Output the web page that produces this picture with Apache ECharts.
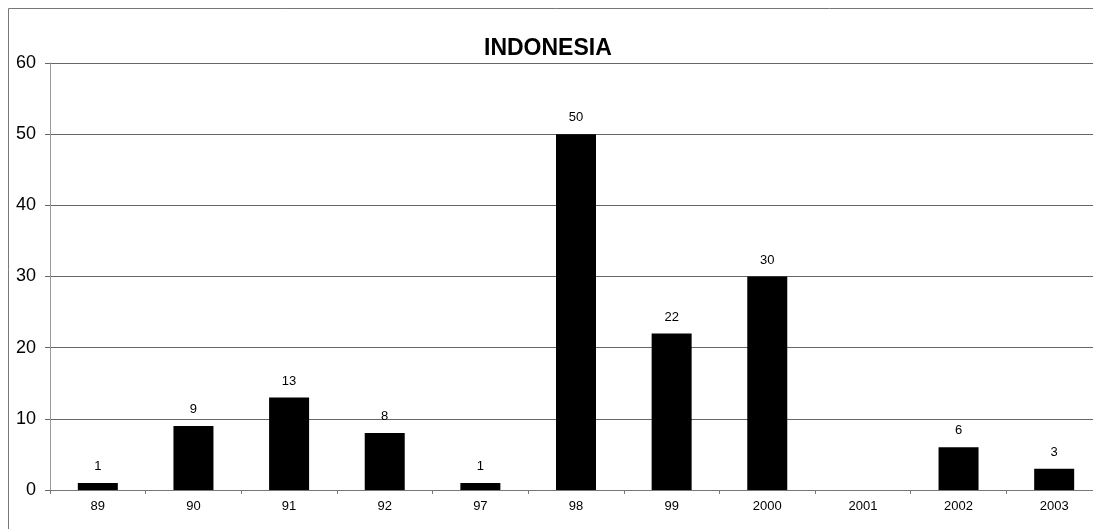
<!DOCTYPE html>
<html>
<head>
<meta charset="utf-8">
<title>INDONESIA</title>
<script src="https://cdn.jsdelivr.net/npm/echarts@6/dist/echarts.min.js"></script>
<style>
    html, body { margin: 0; padding: 0; background: #fff; overflow: hidden; }
    /* the original chart is cropped on the right, so the canvas is a bit wider than the window */
    #chart { width: 1102px; height: 529px; }
</style>
</head>
<body>
<div id="chart"></div>
<script>
    // categories (years) and counts
    var years = ['89', '90', '91', '92', '97', '98', '99', '2000', '2001', '2002', '2003'];
    var counts = [1, 9, 13, 8, 1, 50, 22, 30, null, 6, 3];
    var yTicks = { min: 0, max: 60, step: 10 };

    var myChart = echarts.init(document.getElementById('chart'));
    var option = {
        animation: false,
        backgroundColor: '#fff',
        textStyle: { fontFamily: 'Liberation Sans, Arial, sans-serif' },
        title: {
            text: 'INDONESIA',
            left: 479,
            top: 32,
            textStyle: { fontSize: 23, fontWeight: 'bold', color: '#000' }
        },
        // outer chart frame (runs off the right/bottom edge like the original)
        graphic: [{
            type: 'rect',
            shape: { x: 8.5, y: 8.5, width: 1300, height: 700 },
            style: { fill: 'none', stroke: '#777', lineWidth: 1 },
            silent: true
        }],
        grid: { left: 50, top: 63, right: 0, bottom: 39 },
        xAxis: {
            type: 'category',
            data: years,
            axisLine: { lineStyle: { color: '#777' } },
            axisTick: { show: true, length: 4, lineStyle: { color: '#777' } },
            axisLabel: { color: '#000', fontSize: 13, margin: 10 },
            splitLine: { show: false }
        },
        yAxis: {
            type: 'value',
            min: yTicks.min,
            max: yTicks.max,
            interval: yTicks.step,
            axisLine: { show: true, lineStyle: { color: '#999' } },
            axisTick: { show: true, length: 5, lineStyle: { color: '#666' } },
            axisLabel: { color: '#000', fontSize: 18, margin: 14 },
            splitLine: { show: true, lineStyle: { color: '#666', width: 1 } }
        },
        series: [{
            type: 'bar',
            data: counts,
            barWidth: 40,
            itemStyle: { color: '#000' },
            label: {
                show: true,
                position: 'top',
                distance: 10,
                color: '#000',
                fontSize: 13
            }
        }]
    };
    myChart.setOption(option);
</script>
</body>
</html>
